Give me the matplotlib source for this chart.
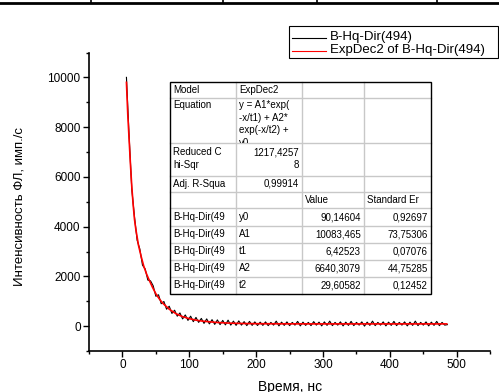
import numpy as np
import matplotlib
matplotlib.use('Agg')
import matplotlib.pyplot as plt
from matplotlib.patches import Rectangle
from matplotlib.ticker import MultipleLocator

plt.rcParams['font.family'] = ['Liberation Sans', 'DejaVu Sans']

# измеренная кинетика (шаг 4 нс)
t_data = np.arange(6, 487, 4)
i_data = [10000, 7650, 5500, 4400, 3450, 3100, 2450, 2300, 1850, 1820,
          1620, 1200, 1260, 900, 990, 680, 800, 510, 640, 400,
          530, 290, 450, 230, 400, 180, 350, 150, 310, 110,
          290, 90, 260, 70, 250, 60, 230, 50, 240, 40,
          200, 30, 210, 40, 180, 20, 190, 30, 170, 25,
          160, 30, 170, 20, 150, 40, 200, 10, 160, 30,
          170, 20, 150, 40, 190, 10, 160, 30, 150, 20,
          180, 40, 160, 10, 170, 30, 200, 20, 150, 40,
          170, 10, 160, 30, 190, 20, 150, 40, 170, 0,
          160, 30, 200, 20, 150, 40, 170, 10, 160, 30,
          190, 20, 150, 40, 170, 10, 160, 30, 200, 20,
          150, 40, 170, 10, 160, 30, 190, 20, 150, 40,
          60]

# аппроксимация ExpDec2
t_fit = [6, 8, 10, 12, 14, 16, 18, 20, 24, 28, 32, 36, 40, 45, 50, 55, 60,
         70, 80, 90, 100, 110, 120, 140, 160, 180, 200, 250, 300, 350, 400,
         450, 485]
i_fit = [9800, 8500, 7500, 6500, 5600, 4900, 4300, 3900, 3250, 2800, 2400,
         2100, 1850, 1560, 1300, 1100, 930, 680, 500, 380, 300, 240, 200,
         150, 120, 105, 98, 92, 90, 90, 90, 90, 90]

legend_labels = ['B-Hq-Dir(494)', 'ExpDec2 of B-Hq-Dir(494)']

# таблица результатов
tab_cols = [170, 236, 302, 364, 431]
tab_rows = [82.3, 98, 143, 175.7, 191.7, 208.3, 225.7, 242.7, 260, 276.7, 294.3]
param_names = ['y0', 'A1', 't1', 'A2', 't2']
param_values = ['90,14604', '10083,465', '6,42523', '6640,3079', '29,60582']
param_errors = ['0,92697', '73,75306', '0,07076', '44,75285', '0,12452']

W, H = 499, 392
fig = plt.figure(figsize=(W / 100, H / 100), dpi=100)

ax = fig.add_axes([89 / W, 1 - 351 / H, (490.2 - 89) / W, (351 - 52.5) / H])
l1, = ax.plot(t_data, i_data, color='black', lw=0.8)
l2, = ax.plot(t_fit, i_fit, color='red', lw=1.2)
ax.set_xlim(-50, 550)
ax.set_ylim(-1000, 11000)
ax.xaxis.set_major_locator(MultipleLocator(100))
ax.xaxis.set_minor_locator(MultipleLocator(50))
ax.yaxis.set_major_locator(MultipleLocator(2000))
ax.yaxis.set_minor_locator(MultipleLocator(1000))
ax.spines['top'].set_visible(False)
ax.spines['right'].set_visible(False)
for s in ['left', 'bottom']:
    ax.spines[s].set_linewidth(1.2)
ax.tick_params(which='major', length=4, width=1, labelsize=8.5, pad=2)
ax.tick_params(which='minor', length=2.5, width=1)
ax.patch.set_alpha(0)

# надписи осей
fig.text(20 / W, 1 - 206 / H, 'Интенсивность ФЛ, имп./с', rotation=90,
         ha='center', va='center', fontsize=9.5)
fig.text(290 / W, 1 - 380 / H, 'Время, нс', ha='center', va='top', fontsize=10)

# накладной слой в пикселях
ov = fig.add_axes([0, 0, 1, 1])
ov.set_xlim(0, W)
ov.set_ylim(H, 0)
ov.axis('off')
ov.patch.set_alpha(0)

# обрезок таблицы сверху
ov.plot([0, W], [3, 3], color='black', lw=2)
for xv in [91, 223, 317, 437]:
    ov.plot([xv, xv], [0, 3], color='black', lw=1.2)

# таблица
x0, x1 = tab_cols[0], tab_cols[-1]
y0, y1 = tab_rows[0], tab_rows[-1]
ov.add_patch(Rectangle((x0, y0), x1 - x0, y1 - y0, facecolor='white',
                       edgecolor='none', zorder=2))
for yv in tab_rows[1:-1]:
    ov.plot([x0, x1], [yv, yv], color='#c8c8c8', lw=1, zorder=3)
for xv in tab_cols[1:-1]:
    ov.plot([xv, xv], [y0, y1], color='#c8c8c8', lw=1, zorder=3)
ov.add_patch(Rectangle((x0, y0), x1 - x0, y1 - y0, facecolor='none',
                       edgecolor='black', lw=1, zorder=4))

fs = 7
pad = 3


def cell(col, ytxt, s, right=False, clip=None):
    if right:
        t = ov.text(tab_cols[col + 1] - pad, ytxt, s, ha='right', va='center',
                    fontsize=fs, zorder=5)
    else:
        t = ov.text(tab_cols[col] + pad, ytxt, s, ha='left', va='center',
                    fontsize=fs, zorder=5)
    if clip is not None:
        r = Rectangle((tab_cols[col], clip[0]), tab_cols[col + 1] - tab_cols[col],
                      clip[1] - clip[0], transform=ov.transData)
        t.set_clip_path(r)
        t.set_clip_on(True)
    return t


cell(0, 90, 'Model')
cell(1, 90, 'ExpDec2')
cell(0, 104.5, 'Equation')
eq_lines = ['y = A1*exp(', '-x/t1) + A2*', 'exp(-x/t2) +', 'y0']
for k, s in enumerate(eq_lines):
    cell(1, 105 + 12.5 * k, s, clip=(98, 143))
cell(0, 152, 'Reduced C')
cell(0, 165, 'hi-Sqr')
cell(1, 152, '1217,4257', right=True)
cell(1, 165, '8', right=True)
cell(0, 183.7, 'Adj. R-Squa')
cell(1, 183.7, '0,99914', right=True)
cell(2, 200, 'Value')
cell(3, 200, 'Standard Er')
for k in range(5):
    yc = (tab_rows[5 + k] + tab_rows[6 + k]) / 2
    cell(0, yc, 'B-Hq-Dir(49')
    cell(1, yc, param_names[k])
    cell(2, yc, param_values[k], right=True)
    cell(3, yc, param_errors[k], right=True)

# легенда
ov.add_patch(Rectangle((289, 26), 209, 32, facecolor='white', edgecolor='black',
                       lw=0.8, zorder=5))
for k, (ln, lab) in enumerate(zip([l1, l2], legend_labels)):
    yy = 36.5 + 13 * k
    ov.plot([292, 326], [yy + 1, yy + 1], color=ln.get_color(), lw=0.8, zorder=6)
    ov.text(330, yy, lab, ha='left', va='center', fontsize=9.5, zorder=6)

fig.savefig('out.png', dpi=100)
